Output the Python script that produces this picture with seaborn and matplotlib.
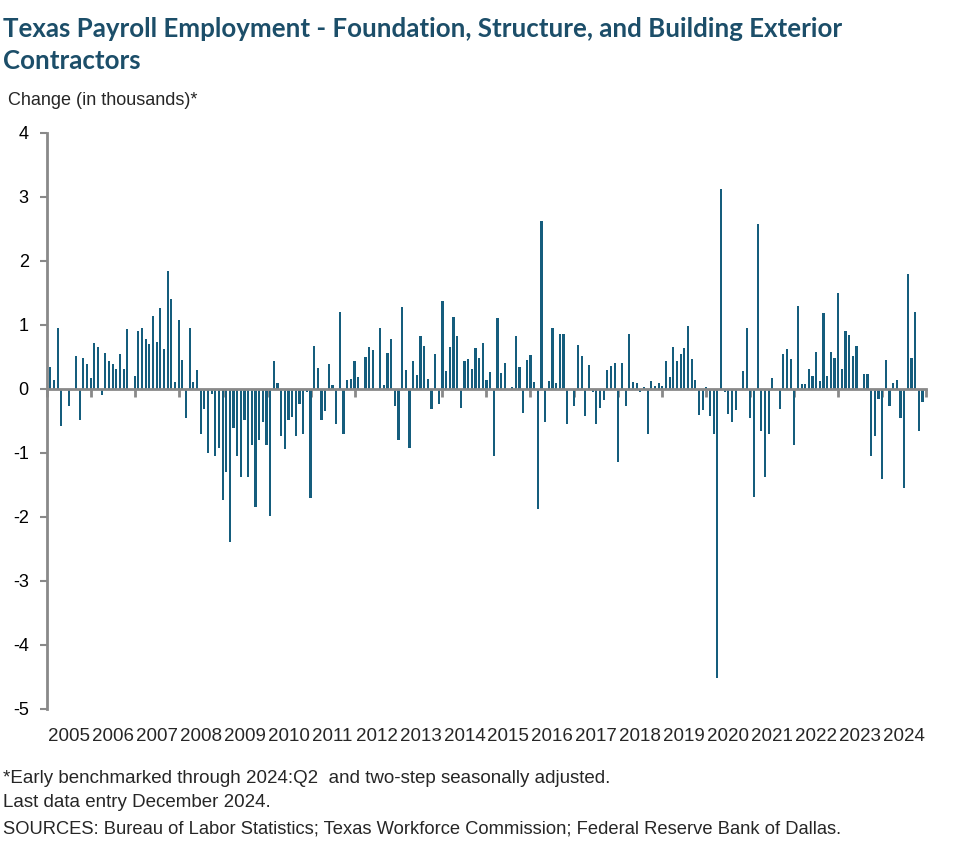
import numpy as np
import pandas as pd
import matplotlib
matplotlib.use("Agg")
import matplotlib.pyplot as plt
import seaborn as sns

# Monthly change in employment (thousands), Feb 2005 - Dec 2024
y2005 = [0.35, 0.14, 0.95, -0.58, 0.0, -0.27, 0.0, 0.52, -0.48, 0.49, 0.39]
y2006 = [0.17, 0.72, 0.65, -0.10, 0.57, 0.43, 0.39, 0.32, 0.55, 0.32, 0.94, 0.0]
y2007 = [0.21, 0.90, 0.96, 0.78, 0.70, 1.14, 0.73, 1.27, 0.63, 1.85, 1.40, 0.11]
y2008 = [1.08, 0.45, -0.46, 0.96, 0.11, 0.30, -0.71, -0.31, -1.00, -0.08, -1.05, -0.92]
y2009 = [-1.74, -1.29, -2.39, -0.61, -1.04, -1.38, -0.48, -1.37, -0.87, -1.85, -0.80, -0.52]
y2010 = [-0.87, -1.99, 0.43, 0.10, -0.73, -0.93, -0.48, -0.43, -0.73, -0.24, -0.70, -0.04]
y2011 = [-1.71, 0.67, 0.33, -0.48, -0.34, 0.39, 0.07, -0.54, 1.20, -0.70, 0.14, 0.16]
y2012 = [0.43, 0.19, 0.0, 0.50, 0.65, 0.61, 0.0, 0.95, 0.07, 0.57, 0.78, -0.26]
y2013 = [-0.79, 1.28, 0.30, -0.92, 0.44, 0.22, 0.82, 0.67, 0.16, -0.31, 0.55, -0.24]
y2014 = [1.37, 0.28, 0.66, 1.12, 0.83, -0.29, 0.43, 0.47, 0.32, 0.64, 0.48, 0.72]
y2015 = [0.14, 0.27, -1.04, 1.11, 0.25, 0.41, 0.0, 0.03, 0.82, 0.35, -0.37, 0.45]
y2016 = [0.53, 0.11, -1.88, 2.63, -0.51, 0.12, 0.95, 0.10, 0.86, 0.86, -0.54, 0.0]
y2017 = [-0.27, 0.68, 0.51, -0.42, 0.38, -0.05, -0.54, -0.29, -0.17, 0.30, 0.36, 0.41]
y2018 = [-1.14, 0.41, -0.27, 0.86, 0.11, 0.10, -0.04, 0.03, -0.70, 0.12, 0.05, 0.10]
y2019 = [0.05, 0.44, 0.19, 0.66, 0.44, 0.55, 0.64, 0.99, 0.47, 0.14, -0.40, -0.33]
y2020 = [0.03, -0.42, -0.71, -4.52, 3.13, -0.04, -0.39, -0.52, -0.33, 0.0, 0.28, 0.95]
y2021 = [-0.45, -1.68, 2.57, -0.65, -1.38, -0.71, 0.17, 0.0, -0.31, 0.55, 0.63, 0.47]
y2022 = [-0.87, 1.30, 0.08, 0.08, 0.32, 0.20, 0.58, 0.12, 1.19, 0.20, 0.58, 0.48]
y2023 = [1.50, 0.32, 0.90, 0.85, 0.52, 0.67, 0.0, 0.24, 0.24, -1.05, -0.74, -0.15]
y2024 = [-1.40, 0.45, -0.27, 0.10, 0.14, -0.45, -1.55, 1.80, 0.48, 1.20, -0.65, -0.21]

years = [str(y) for y in range(2005, 2025)]

values = (y2005 + y2006 + y2007 + y2008 + y2009 + y2010 + y2011 + y2012 + y2013
          + y2014 + y2015 + y2016 + y2017 + y2018 + y2019 + y2020 + y2021 + y2022
          + y2023 + y2024)

# month index: Jan 2005 = 0, data starts Feb 2005
df = pd.DataFrame({"month": np.arange(1, len(values) + 1), "change": values})

sns.set_style("white")
plt.rcParams['font.family'] = ['Liberation Sans', 'DejaVu Sans']

bar_color = "#155d7d"
grey = "#898989"

fig = plt.figure(figsize=(9.77, 8.64), dpi=100)
ax = fig.add_axes([0.0478, 0.1794, 0.9002, 0.6667])

sns.barplot(data=df, x="month", y="change", native_scale=True, color=bar_color,
            width=0.6, errorbar=None, saturation=1, linewidth=0, ax=ax)

ax.set_xlim(0, 240)
ax.set_ylim(-5, 4)

# y axis
ax.set_yticks(range(-5, 5))
ax.set_yticklabels([str(v) for v in range(-5, 5)], fontsize=13)
ax.tick_params(axis="y", direction="out", length=5, width=1.5, color=grey, pad=8,
               left=True, labelcolor="black")
ax.spines["left"].set_color(grey)
ax.spines["left"].set_linewidth(2)
ax.spines["right"].set_visible(False)
ax.spines["top"].set_visible(False)

# zero line with year boundary ticks
ax.spines["bottom"].set_position(("data", 0))
ax.spines["bottom"].set_color(grey)
ax.spines["bottom"].set_linewidth(2)
ax.set_xticks(np.arange(0, 241, 12))
ax.tick_params(axis="x", direction="out", length=6, width=2, color=grey,
               bottom=True, labelbottom=False)
ax.set_xlabel("")
ax.set_ylabel("")

# year labels along the bottom
sec = ax.secondary_xaxis(0)
sec.set_xticks(np.arange(6, 240, 12))
sec.set_xticklabels(years, fontsize=13.5)
sec.tick_params(axis="x", length=0, pad=14)
sec.spines["bottom"].set_visible(False)

title_color = "#1c4e69"
fig.text(0.003, 0.967, "Texas Payroll Employment - Foundation, Structure, and Building Exterior",
         fontsize=18.6, fontweight="bold", color=title_color, family=["Lato", "DejaVu Sans"],
         ha="left", va="center")
fig.text(0.003, 0.929, "Contractors",
         fontsize=18.6, fontweight="bold", color=title_color, family=["Lato", "DejaVu Sans"],
         ha="left", va="center")
fig.text(0.008, 0.884, "Change (in thousands)*", fontsize=13, ha="left", va="center")

fig.text(0.003, 0.099, "*Early benchmarked through 2024:Q2  and two-step seasonally adjusted.",
         fontsize=13.5, ha="left", va="center")
fig.text(0.003, 0.071, "Last data entry December 2024.", fontsize=13.5, ha="left", va="center")
fig.text(0.003, 0.040, "SOURCES: Bureau of Labor Statistics; Texas Workforce Commission; Federal Reserve Bank of Dallas.",
         fontsize=13.2, ha="left", va="center")

fig.savefig("out.png", dpi=100)
